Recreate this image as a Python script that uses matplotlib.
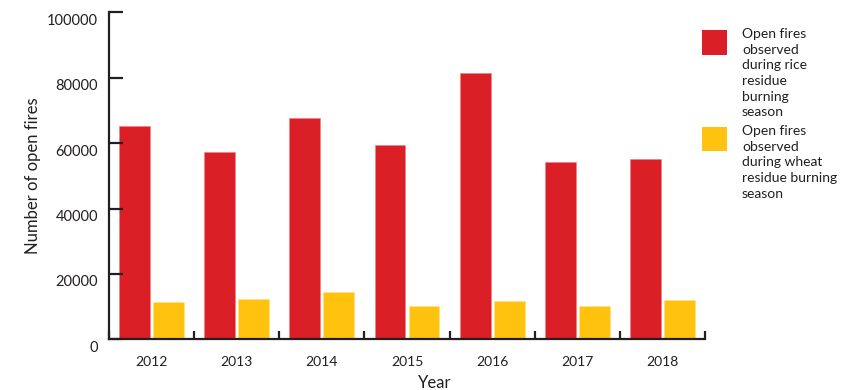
import numpy as np
import matplotlib
matplotlib.use("Agg")
import matplotlib.pyplot as plt
import matplotlib.transforms as mtransforms
from matplotlib.patches import Rectangle

# data
years = ["2012", "2013", "2014", "2015", "2016", "2017", "2018"]
rice_fires = [65300, 57200, 67600, 59300, 81400, 54300, 55100]
wheat_fires = [11400, 12300, 14600, 10100, 11600, 10200, 12000]
series_labels = ["Open fires\nobserved\nduring rice\nresidue\nburning\nseason",
                 "Open fires\nobserved\nduring wheat\nresidue burning\nseason"]
y_ticks = [0, 20000, 40000, 60000, 80000, 100000]

RED = "#da1f26"
YELLOW = "#ffc20e"
DARK = "#231f20"

plt.rcParams['font.family'] = ['Lato', 'DejaVu Sans']

fig = plt.figure(figsize=(8.5, 3.9), dpi=100)
ax = fig.add_axes([109 / 850, 1 - 339.3 / 390, (705 - 109) / 850, (339.3 - 12.3) / 390])

x = np.arange(len(years))
w = 0.363
ax.bar(x - 0.2, rice_fires, w, color=RED, edgecolor="#f08080", linewidth=0.4)
ax.bar(x + 0.2, wheat_fires, w, color=YELLOW, edgecolor="#ffe080", linewidth=0.4)

ax.set_xlim(-0.5, len(years) - 0.5)
ax.set_ylim(0, 100000)

for s in ["top", "right"]:
    ax.spines[s].set_visible(False)
for s in ["left", "bottom"]:
    ax.spines[s].set_color(DARK)
    ax.spines[s].set_linewidth(1.6)

ax.set_yticks(y_ticks)
ax.set_yticklabels([str(t) for t in y_ticks])
ax.tick_params(axis="y", direction="in", length=10, width=1.6, color=DARK,
               labelsize=10.5, labelcolor=DARK, pad=8)
# labels sit slightly below their tick marks
off = mtransforms.ScaledTranslation(0, -7 / 100, fig.dpi_scale_trans)
for lab in ax.get_yticklabels():
    lab.set_transform(lab.get_transform() + off)

# x tick marks sit on the group boundaries, labels at group centres
ax.set_xticks(np.arange(len(years) + 1) - 0.5)
ax.set_xticklabels([])
ax.tick_params(axis="x", which="major", direction="in", length=6, width=1.6, color=DARK)
ax.set_xticks(x, minor=True)
ax.set_xticklabels(years, minor=True)
ax.tick_params(axis="x", which="minor", length=0, labelsize=10, labelcolor=DARK, pad=12)

ax.set_ylabel("Number of open fires", fontsize=12, color=DARK, labelpad=4)
fig.text(435 / 850, 1 - 383 / 390, "Year", fontsize=12, color=DARK, ha="center", va="center")

# legend drawn by hand to match the layout
legend_colors = [RED, YELLOW]
legend_tops = [30, 127]
for col, top, lab in zip(legend_colors, legend_tops, series_labels):
    fig.patches.append(Rectangle((702 / 850, 1 - (top + 24.5) / 390), 25 / 850, 24.5 / 390,
                                 transform=fig.transFigure, facecolor=col, edgecolor="none"))
    fig.text(742 / 850, 1 - (top - 2) / 390, lab, fontsize=10, color=DARK,
             ha="left", va="top", linespacing=1.37)

fig.savefig("out.png", dpi=100)
